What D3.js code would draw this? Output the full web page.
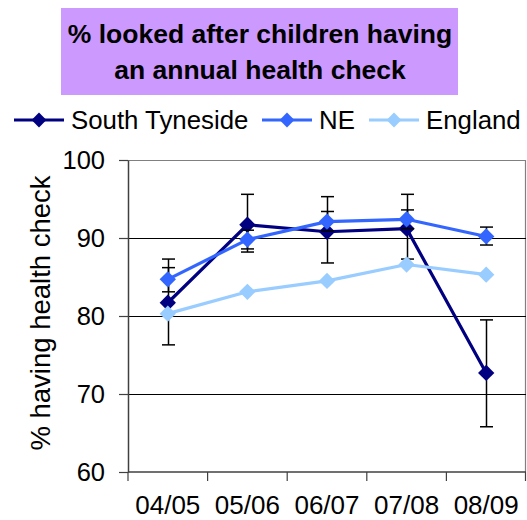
<!DOCTYPE html>
<html><head><meta charset="utf-8">
<script src="https://cdn.jsdelivr.net/npm/d3@7"></script>
<style>body{margin:0;background:#fff}svg{display:block;font-family:"Liberation Sans",Arial,sans-serif}</style>
</head><body><svg id="c" width="527" height="520"></svg>
<script>
const categories = ["04/05","05/06","06/07","07/08","08/09"];
const seriesNames = ["South Tyneside","NE","England"];
const southTyneside = [81.7, 91.7, 90.8, 91.2, 72.7];
const southTynesideLow = [76.3, 88.2, 86.8, 87.3, 65.8];
const southTynesideHigh = [86.2, 95.6, 95.3, 95.6, 79.5];
const ne = [84.7, 89.8, 92.1, 92.4, 90.2];
const neLow = [83.1, 88.6, 90.9, 91.2, 89.1];
const neHigh = [87.3, 91.0, 93.4, 93.6, 91.4];
const england = [80.3, 83.1, 84.5, 86.6, 85.3];
const yTicks = [60, 70, 80, 90, 100];
const colors = ["#000080", "#3366FF", "#99CCFF"];

const svg = d3.select("#c");
const m = {l:128, r:526, t:160, b:472};
const x = d3.scaleBand().domain(categories).range([m.l, m.r]);
const y = d3.scaleLinear().domain([60,100]).range([m.b, m.t]);

// title box
svg.append("rect").attr("x",61).attr("y",8).attr("width",397).attr("height",87).attr("fill","#CC99FF");
const title = svg.append("text").attr("text-anchor","middle").attr("font-weight","bold").attr("font-size",26.5).attr("fill","#000");
title.append("tspan").attr("x",260).attr("y",43).text("% looked after children having");
title.append("tspan").attr("x",260).attr("y",78.5).text("an annual health check");

// legend
const legX = [14, 262, 369];
seriesNames.forEach((n,i)=>{
  const g = svg.append("g").attr("transform",`translate(${legX[i]},120)`);
  g.append("line").attr("x1",0).attr("x2",50).attr("y1",0).attr("y2",0).attr("stroke",colors[i]).attr("stroke-width",3);
  g.append("path").attr("d",d3.symbol(d3.symbolDiamond2,140)()).attr("transform","translate(25,0)").attr("fill",colors[i]);
  g.append("text").attr("x",57).attr("y",9).attr("font-size",25.8).text(n);
});

// plot border (top/right)
svg.append("path").attr("d",`M${m.l},${m.t+0.5}H${m.r-0.5}V${m.b}`).attr("fill","none").attr("stroke","#808080").attr("stroke-width",1.2);
// gridlines
svg.append("g").selectAll("line").data(yTicks.filter(t=>t>60 && t<100)).join("line")
  .attr("x1",m.l).attr("x2",m.r).attr("y1",d=>Math.round(y(d))+0.5).attr("y2",d=>Math.round(y(d))+0.5)
  .attr("stroke","#000").attr("stroke-width",1);

// axes
const ya = svg.append("g").attr("transform",`translate(${m.l},0)`)
  .call(d3.axisLeft(y).tickValues(yTicks).tickSize(9).tickPadding(14).tickSizeOuter(0));
ya.select(".domain").attr("stroke","#404040").attr("stroke-width",1.5);
ya.selectAll(".tick line").attr("stroke","#404040").attr("stroke-width",1.2);
ya.selectAll("text").attr("font-size",25.5).attr("font-family","Liberation Sans, Arial, sans-serif").attr("fill","#000").attr("dy","0.35em");

const xa = svg.append("g").attr("transform",`translate(0,${m.b})`);
xa.append("line").attr("x1",m.l).attr("x2",m.r).attr("stroke","#404040").attr("stroke-width",1.5);
const bounds = categories.map(c=>x(c)).concat([m.r-0.5]);
xa.selectAll("line.t").data(bounds).join("line").attr("class","t")
  .attr("x1",d=>d).attr("x2",d=>d).attr("y1",0).attr("y2",9).attr("stroke","#404040").attr("stroke-width",1.2);
xa.selectAll("text").data(categories).join("text")
  .attr("x",d=>x(d)+x.bandwidth()/2).attr("y",42).attr("text-anchor","middle").attr("font-size",26).text(d=>d);

// y title
svg.append("text").attr("transform","translate(50,313) rotate(-90)").attr("text-anchor","middle").attr("font-size",27.5).text("% having health check");

const cx = c => x(c)+x.bandwidth()/2;
const line = d3.line().x((d,i)=>cx(categories[i])).y(d=>y(d));
const allSeries = [
  {v:southTyneside, lo:southTynesideLow, hi:southTynesideHigh},
  {v:ne, lo:neLow, hi:neHigh},
  {v:england, lo:null, hi:null}
];
allSeries.forEach((s,i)=>{
  const g = svg.append("g");
  g.append("path").attr("d",line(s.v)).attr("fill","none").attr("stroke",colors[i]).attr("stroke-width",3.2).attr("stroke-linejoin","round");
  if (s.lo) {
    categories.forEach((c,j)=>{
      const xx = Math.round(cx(c))+0.5;
      g.append("line").attr("x1",xx).attr("x2",xx).attr("y1",y(s.lo[j])).attr("y2",y(s.hi[j])).attr("stroke","#000").attr("stroke-width",1.5);
      [s.lo[j], s.hi[j]].forEach(v=>{
        g.append("line").attr("x1",xx-6.5).attr("x2",xx+6.5).attr("y1",y(v)).attr("y2",y(v)).attr("stroke","#000").attr("stroke-width",1.5);
      });
    });
  }
  g.selectAll("path.m").data(s.v).join("path").attr("class","m")
    .attr("d",d3.symbol(d3.symbolDiamond2,170)())
    .attr("transform",(d,j)=>`translate(${cx(categories[j])},${y(d)})`)
    .attr("fill",colors[i]);
});
</script></body></html>
